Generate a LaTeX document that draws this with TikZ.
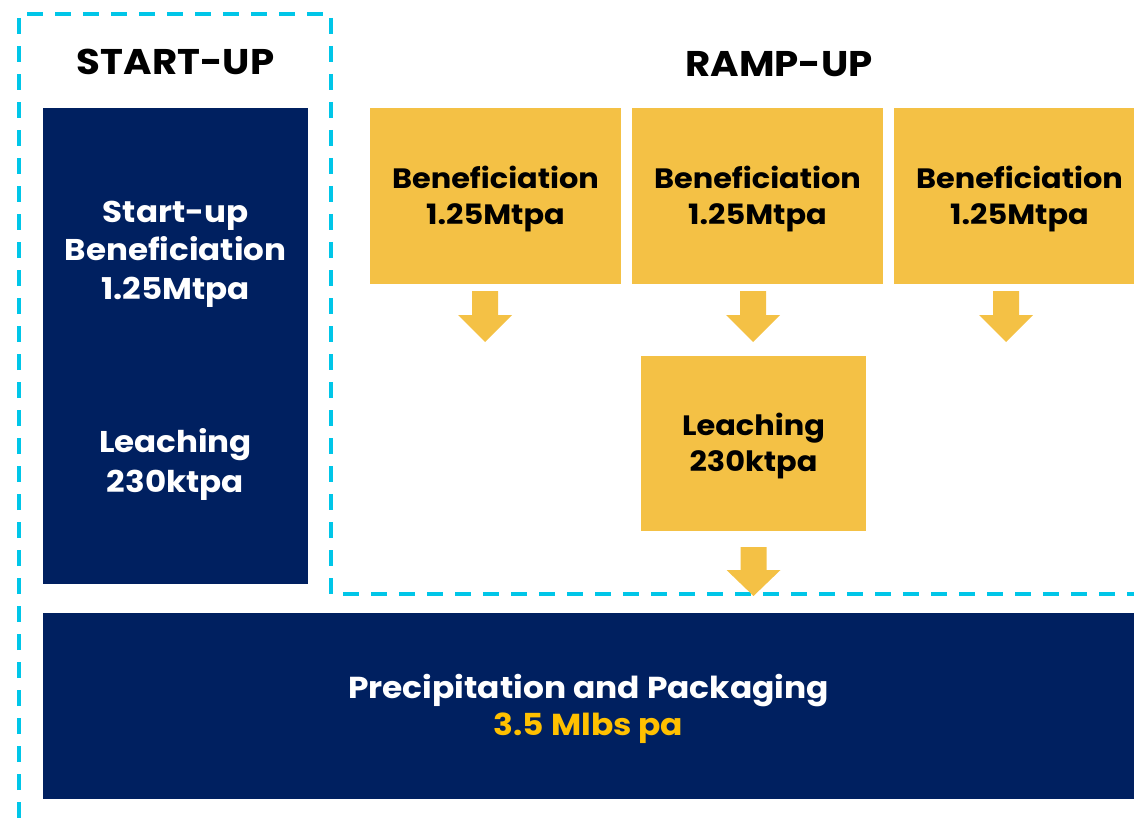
\documentclass[tikz,border=0pt]{standalone}
\usepackage{fontspec}
\setmainfont{Poppins}[FakeStretch=1.085]
\definecolor{navy}{RGB}{0,32,96}
\definecolor{gold}{RGB}{244,193,69}
\definecolor{amber}{RGB}{255,192,0}
\definecolor{cyanline}{RGB}{0,198,232}
\tikzset{
  navybox/.style={fill=navy, draw=none, inner sep=0pt, anchor=north west},
  goldbox/.style={fill=gold, draw=none, inner sep=0pt, anchor=north west},
  label/.style={align=center, inner sep=0pt, font=\bfseries},
  phaseline/.style={draw=cyanline, line width=4pt, dash pattern=on 16pt off 12pt},
  pics/downarrow/.style args={#1/#2}{code={
    \fill[gold] (-13,0) -- (13,0) -- (13,#1) -- (27,#1) -- (0,#2) -- (-27,#1) -- (-13,#1) -- cycle;
  }}
}
\begin{document}
\begin{tikzpicture}[x=1pt,y=-1pt]
\useasboundingbox (0,0) rectangle (1134,818);
\clip (0,0) rectangle (1134,818);

% phase boundary
\draw[phaseline] (19,818) -- (19,14) -- (331,14) -- (331,594) -- (1134,594);

% titles
\node[label, font=\bfseries\fontsize{35.7}{40}\selectfont] (startT) at (175.5,62) {START-UP};
\node[label, font=\bfseries\fontsize{35.7}{40}\selectfont] (rampT) at (779,64) {RAMP-UP};

% start-up column
\node[navybox, minimum width=265pt, minimum height=476pt] (startbox) at (43,108) {};
\node[label, text=white, font=\bfseries\fontsize{30}{38.5}\selectfont] (startben) at (175.5,254) {Start-up\\Beneficiation\\1.25Mtpa};
\node[label, text=white, font=\bfseries\fontsize{30}{40}\selectfont] (startlch) at (175.5,464) {Leaching\\230ktpa};

% ramp-up beneficiation trains
\node[goldbox, minimum width=251pt, minimum height=176pt] (ben1) at (370,108) {};
\node[goldbox, minimum width=251pt, minimum height=176pt] (ben2) at (632,108) {};
\node[goldbox, minimum width=251pt, minimum height=176pt] (ben3) at (894,108) {};
\node[label, font=\bfseries\fontsize{28}{36}\selectfont] (ben1T) at (495.5,199) {Beneficiation\\1.25Mtpa};
\node[label, font=\bfseries\fontsize{28}{36}\selectfont] (ben2T) at (757.5,199) {Beneficiation\\1.25Mtpa};
\node[label, font=\bfseries\fontsize{28}{36}\selectfont] (ben3T) at (1019.5,199) {Beneficiation\\1.25Mtpa};

% ramp-up leaching
\node[goldbox, minimum width=225pt, minimum height=175pt] (lch) at (641,356) {};
\node[label, font=\bfseries\fontsize{28}{36}\selectfont] (lchT) at (753.5,446) {Leaching\\230ktpa};

% flow arrows
\coordinate (a1) at (485,291);
\coordinate (a2) at (753,291);
\coordinate (a3) at (1006,291);
\coordinate (a4) at (753.5,547);
\pic at (a1) {downarrow={24/51}};
\pic at (a2) {downarrow={24/51}};
\pic at (a3) {downarrow={24/51}};
\pic at (a4) {downarrow={23/49}};

% precipitation and packaging
\node[navybox, minimum width=1100pt, minimum height=186pt] (pp) at (43,613) {};
\node[label, font=\bfseries\fontsize{30.3}{37}\selectfont] (ppT) at (588.5,709) {\textcolor{white}{Precipitation and Packaging}\\\textcolor{amber}{3.5 Mlbs pa}};
\end{tikzpicture}
\end{document}
